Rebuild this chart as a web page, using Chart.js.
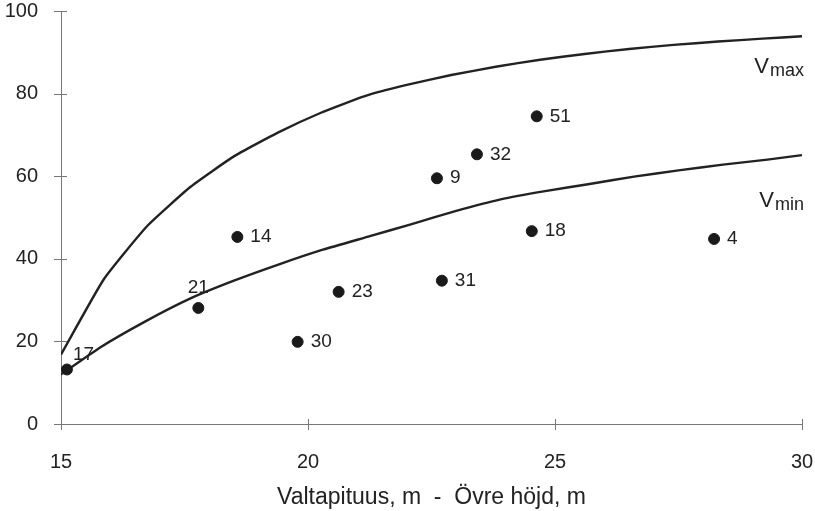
<!DOCTYPE html>
<html>
<head>
<meta charset="utf-8">
<script src="https://cdn.jsdelivr.net/npm/chart.js@4"></script>
<style>
  html, body { margin: 0; padding: 0; background: #fff; }
  #wrap { width: 815px; height: 511px; }
</style>
</head>
<body>
<div id="wrap"><canvas id="myChart"></canvas></div>
<script>
// plot numbers with height (x) and value (y)
var plotNumbers = ["17", "21", "14", "30", "23", "9", "31", "32", "18", "51", "4"];
var plotX = [15.12, 17.78, 18.57, 19.79, 20.62, 22.61, 22.71, 23.42, 24.53, 24.63, 28.22];
var plotY = [13.2, 28.1, 45.3, 19.9, 32.0, 59.5, 34.7, 65.3, 46.7, 74.5, 44.8];

// curves
var vmaxX = [15.0, 15.87, 16.75, 17.63, 18.5, 19.4, 20.25, 21.15, 22.0, 22.9, 23.8, 24.7, 25.6, 26.5, 27.4, 28.3, 29.2, 30.0];
var vmaxY = [16.8, 35.1, 48.0, 57.5, 64.8, 70.6, 75.3, 79.4, 82.1, 84.5, 86.5, 88.2, 89.6, 90.8, 91.8, 92.6, 93.3, 93.9];
var vminX = [15.0, 15.8, 16.7, 17.6, 18.5, 19.4, 20.3, 21.2, 22.1, 23.0, 23.9, 24.8, 25.7, 26.6, 27.5, 28.4, 29.3, 30.0];
var vminY = [12.0, 18.6, 24.8, 30.3, 34.7, 38.6, 42.2, 45.3, 48.4, 51.6, 54.4, 56.4, 58.1, 59.9, 61.4, 62.8, 64.0, 65.1];

var xTicks = [15, 20, 25, 30];
var yTicks = [0, 20, 40, 60, 80, 100];
var curveNames = ["max", "min"];
var xTitle = "Valtapituus, m  -  Övre höjd, m";

var FONT = "'Liberation Sans', Arial, sans-serif";
var INK = "#222";

var toPts = (xs, ys) => xs.map((x, i) => ({ x: x, y: ys[i] }));
var noPad = (s) => { s.paddingTop = 0; s.paddingBottom = 0; s.paddingLeft = 0; s.paddingRight = 0; };

// ticks crossing the axes
var crossTicks = {
  id: "crossTicks",
  afterDraw(chart) {
    var ctx = chart.ctx, a = chart.chartArea;
    var sx = chart.scales.x, sy = chart.scales.y;
    ctx.save();
    ctx.strokeStyle = "#777";
    ctx.lineWidth = 1;
    ctx.beginPath();
    xTicks.forEach((t) => {
      var p = Math.round(sx.getPixelForValue(t)) + 0.5;
      ctx.moveTo(p, a.bottom - 5);
      ctx.lineTo(p, a.bottom + 6);
    });
    yTicks.forEach((t) => {
      var p = Math.round(sy.getPixelForValue(t)) + 0.5;
      ctx.moveTo(a.left - 7, p);
      ctx.lineTo(a.left + 6, p);
    });
    ctx.stroke();
    ctx.restore();
  },
};

// numbers beside the dots, and V labels on the curves
var labelsPlugin = {
  id: "labelsPlugin",
  afterDatasetsDraw(chart) {
    var ctx = chart.ctx;
    var meta = chart.getDatasetMeta(0);
    ctx.save();
    ctx.fillStyle = INK;
    ctx.font = "19px " + FONT;
    ctx.textBaseline = "middle";
    meta.data.forEach((pt, i) => {
      var txt = plotNumbers[i];
      if (txt === "21") {
        ctx.textAlign = "center";
        ctx.fillText(txt, pt.x, pt.y - 20);
      } else if (txt === "17") {
        ctx.textAlign = "left";
        ctx.fillText(txt, pt.x + 6, pt.y - 15);
      } else {
        ctx.textAlign = "left";
        ctx.fillText(txt, pt.x + 13, pt.y);
      }
    });

    var sy = chart.scales.y, a = chart.chartArea;
    var baseY = [85.1, 52.6];
    ctx.textBaseline = "alphabetic";
    curveNames.forEach((name, i) => {
      var y = sy.getPixelForValue(baseY[i]);
      ctx.font = "18px " + FONT;
      var subW = ctx.measureText(name).width;
      ctx.textAlign = "right";
      ctx.fillText(name, a.right + 2, y + 3);
      ctx.font = "22px " + FONT;
      ctx.fillText("V", a.right + 1 - subW, y);
    });
    ctx.restore();
  },
};

var canva = document.getElementById("myChart").getContext("2d");
var chart = new Chart(canva, {
  type: "scatter",
  data: {
    datasets: [
      {
        data: toPts(plotX, plotY),
        backgroundColor: "#1a1a1a",
        borderColor: "#1a1a1a",
        pointRadius: 5.5,
        showLine: false,
      },
      {
        data: toPts(vmaxX, vmaxY),
        showLine: true,
        borderColor: INK,
        borderWidth: 2.4,
        pointRadius: 0,
        tension: 0.15,
      },
      {
        data: toPts(vminX, vminY),
        showLine: true,
        borderColor: INK,
        borderWidth: 2.4,
        pointRadius: 0,
        tension: 0.15,
      },
    ],
  },
  options: {
    responsive: true,
    maintainAspectRatio: false,
    animation: false,
    layout: { padding: { top: 11, right: 13, left: 0, bottom: 0 } },
    scales: {
      x: {
        type: "linear",
        min: 15,
        max: 30,
        afterBuildTicks: (s) => { s.ticks = xTicks.map((v) => ({ value: v })); },
        afterFit: (s) => { s.height = 87; noPad(s); },
        grid: { display: false },
        border: { display: true, color: "#777", width: 1 },
        ticks: { color: INK, font: { family: FONT, size: 20 }, padding: 18, maxRotation: 0 },
        title: {
          display: true,
          text: xTitle,
          color: INK,
          font: { family: FONT, size: 23 },
          padding: { top: 0, bottom: 0 },
        },
      },
      y: {
        min: 0,
        max: 100,
        afterBuildTicks: (s) => { s.ticks = yTicks.map((v) => ({ value: v })); },
        afterFit: (s) => { s.width = 61; noPad(s); },
        grid: { display: false },
        border: { display: true, color: "#777", width: 1 },
        ticks: { color: INK, font: { family: FONT, size: 20 }, padding: 15 },
      },
    },
    plugins: {
      legend: { display: false },
      tooltip: { enabled: false },
    },
  },
  plugins: [crossTicks, labelsPlugin],
});
</script>
</body>
</html>
